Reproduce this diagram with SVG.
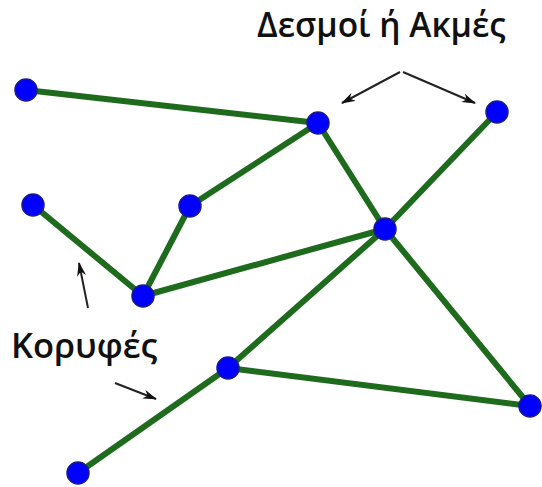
<svg xmlns="http://www.w3.org/2000/svg" width="542" height="487" viewBox="0 0 542 487">
<style>
.e{stroke:#1e6b1e;stroke-width:6;stroke-linecap:round}
.n{fill:#0000ff;stroke:#1a1a8c;stroke-width:1.5}
.a{stroke:#222;stroke-width:2;fill:none}
.t{font-family:"Open Sans","Noto Sans",sans-serif;font-weight:600;fill:#111}
</style>
<defs>
<marker id="ah" viewBox="0 0 14 10" refX="13" refY="5" markerWidth="14" markerHeight="10" markerUnits="userSpaceOnUse" orient="auto"><path d="M0,0.5 L14,5 L0,9.5 L4,5 Z" fill="#111"/></marker>
</defs>
<rect width="542" height="487" fill="#fff"/>
<g id="edges">
<line class="e" x1="26" y1="90" x2="318" y2="123"/>
<line class="e" x1="318" y1="123" x2="190" y2="206"/>
<line class="e" x1="190" y1="206" x2="143" y2="296"/>
<line class="e" x1="33" y1="205" x2="143" y2="296"/>
<line class="e" x1="143" y1="296" x2="385" y2="229"/>
<line class="e" x1="318" y1="123" x2="385" y2="229"/>
<line class="e" x1="385" y1="229" x2="497" y2="112"/>
<line class="e" x1="385" y1="229" x2="228" y2="368"/>
<line class="e" x1="385" y1="229" x2="530" y2="406"/>
<line class="e" x1="228" y1="368" x2="530" y2="406"/>
<line class="e" x1="228" y1="368" x2="78" y2="473"/>
</g>
<g id="arrows">
<polyline class="a" points="400,72 342,103" marker-end="url(#ah)"/>
<polyline class="a" points="403,72 475,103" marker-end="url(#ah)"/>
<line class="a" x1="88" y1="308" x2="79" y2="263" marker-end="url(#ah)"/>
<line class="a" x1="115" y1="383" x2="156" y2="399" marker-end="url(#ah)"/>
</g>
<g id="nA"><circle class="n" cx="26" cy="90" r="11"/></g>
<g id="nB"><circle class="n" cx="318" cy="123" r="11"/></g>
<g id="nC"><circle class="n" cx="497" cy="112" r="11"/></g>
<g id="nD"><circle class="n" cx="33" cy="205" r="11"/></g>
<g id="nE"><circle class="n" cx="190" cy="206" r="11"/></g>
<g id="nF"><circle class="n" cx="385" cy="229" r="11"/></g>
<g id="nG"><circle class="n" cx="143" cy="296" r="11"/></g>
<g id="nH"><circle class="n" cx="228" cy="368" r="11"/></g>
<g id="nI"><circle class="n" cx="530" cy="406" r="11"/></g>
<g id="nJ"><circle class="n" cx="78" cy="473" r="11"/></g>
<g id="labels">
<text class="t" x="257" y="37" font-size="33.5">Δεσμοί ή Ακμές</text>
<text class="t" x="11" y="358" font-size="34.5">Κορυφές</text>
</g>
</svg>
